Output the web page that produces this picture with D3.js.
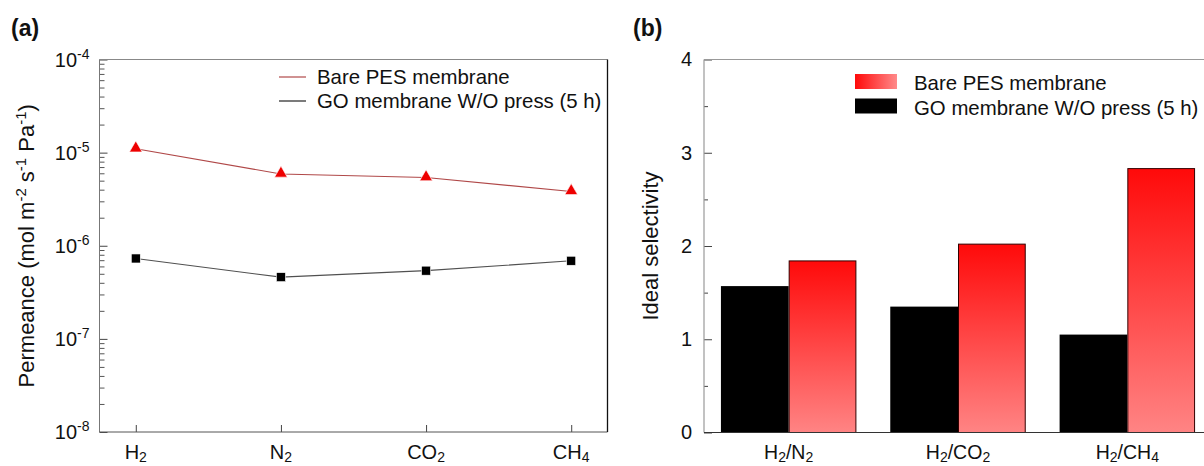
<!DOCTYPE html>
<html>
<head>
<meta charset="utf-8">
<script src="https://cdn.jsdelivr.net/npm/d3@7"></script>
<style>
  html, body { margin: 0; padding: 0; background: #fff; }
  svg { display: block; font-family: "Liberation Sans", Arial, sans-serif; }
</style>
</head>
<body>
<svg id="chart" width="1204" height="466"></svg>
<script>
// ---------------- DATA ----------------
const gases = ["H2", "N2", "CO2", "CH4"];
const permeancePES = [1.10e-5, 5.9e-6, 5.4e-6, 3.83e-6];
const permeanceGO  = [7.3e-7, 4.6e-7, 5.4e-7, 6.9e-7];
const permeanceTicks = [1e-8, 1e-7, 1e-6, 1e-5, 1e-4];
const permeanceTickExp = ["-8", "-7", "-6", "-5", "-4"];

const pairs = ["H2/N2", "H2/CO2", "H2/CH4"];
const selectivityGO  = [1.57, 1.35, 1.05];
const selectivityPES = [1.84, 2.02, 2.83];
const selectivityTicks = [0, 1, 2, 3, 4];
const selectivityMinor = [0.5, 1.5, 2.5, 3.5];

const seriesNames = ["Bare PES membrane", "GO membrane W/O press (5 h)"];

// ---------------- HELPERS ----------------
const svg = d3.select("#chart");

// write a label where digits become subscripts
function subLabel(textSel, str, subSize) {
  const parts = str.match(/[A-Za-z\/]+|\d+/g);
  let lowered = false;
  parts.forEach(p => {
    const isNum = /^\d+$/.test(p);
    const t = textSel.append("tspan").text(p);
    if (isNum && !lowered) { t.attr("dy", 3).attr("font-size", subSize); lowered = true; }
    else if (isNum) { t.attr("font-size", subSize); }
    else if (lowered) { t.attr("dy", -3); lowered = false; }
  });
}

// ---------------- PANEL (a) ----------------
const A = { left: 99.5, right: 607.5, top: 59.5, bottom: 432 };

const xA = d3.scalePoint().domain(gases).range([A.left, A.right]).padding(0.25);
const yA = d3.scaleLog().domain([1e-8, 1e-4]).range([A.bottom, A.top]);

const gA = svg.append("g");

// minor ticks
const minorA = [];
for (let e = -8; e < -4; e++) for (let m = 2; m <= 9; m++) minorA.push(m * Math.pow(10, e));

gA.append("g")
  .attr("transform", `translate(${A.left},0)`)
  .call(d3.axisLeft(yA).tickValues(minorA).tickSize(-5).tickFormat(""))
  .call(g => g.select(".domain").remove())
  .call(g => g.selectAll("line").attr("stroke", "#555"));

gA.append("g")
  .attr("transform", `translate(${A.left},0)`)
  .call(d3.axisLeft(yA).tickValues(permeanceTicks).tickSize(-8).tickFormat(""))
  .call(g => g.select(".domain").remove())
  .call(g => g.selectAll("line").attr("stroke", "#444"));

// y tick labels 10^n
permeanceTicks.forEach((v, i) => {
  const t = gA.append("text")
    .attr("x", A.left - 10).attr("y", yA(v) + 7)
    .attr("text-anchor", "end").attr("font-size", 20).attr("fill", "#111");
  t.append("tspan").text("10");
  t.append("tspan").text(permeanceTickExp[i]).attr("font-size", 14).attr("dy", -8);
});

// x ticks
gA.append("g")
  .attr("transform", `translate(0,${A.bottom})`)
  .call(d3.axisBottom(xA).tickSize(-7).tickFormat(""))
  .call(g => g.select(".domain").remove())
  .call(g => g.selectAll("line").attr("stroke", "#444"));

gases.forEach(gs => {
  const t = gA.append("text")
    .attr("x", xA(gs)).attr("y", 459)
    .attr("text-anchor", "middle").attr("font-size", 20).attr("fill", "#111");
  subLabel(t, gs, 14);
});

// frame
gA.append("line").attr("x1", A.left).attr("x2", A.right).attr("y1", A.top).attr("y2", A.top).attr("stroke", "#888");
gA.append("line").attr("x1", A.left).attr("x2", A.left).attr("y1", A.top).attr("y2", A.bottom).attr("stroke", "#777");
gA.append("line").attr("x1", A.left).attr("x2", A.right).attr("y1", A.bottom).attr("y2", A.bottom).attr("stroke", "#555");
gA.append("line").attr("x1", A.right).attr("x2", A.right).attr("y1", A.top).attr("y2", A.bottom).attr("stroke", "#111").attr("stroke-width", 1.3);

// lines
const lineA = d3.line().x((d, i) => xA(gases[i])).y(d => yA(d));
gA.append("path").datum(permeancePES).attr("d", lineA)
  .attr("fill", "none").attr("stroke", "#b04848").attr("stroke-width", 1.1);
gA.append("path").datum(permeanceGO).attr("d", lineA)
  .attr("fill", "none").attr("stroke", "#505050").attr("stroke-width", 1.1);

// markers
const tri = d3.symbol().type(d3.symbolTriangle).size(70);
gA.selectAll(".tri").data(permeancePES).join("path")
  .attr("transform", (d, i) => `translate(${xA(gases[i])},${yA(d) - 0.5})`)
  .attr("d", tri).attr("fill", "#ee0000").attr("stroke", "#fff").attr("stroke-width", 0.6);
gA.selectAll(".sq").data(permeanceGO).join("rect")
  .attr("x", (d, i) => xA(gases[i]) - 4.5).attr("y", d => yA(d) - 4.5)
  .attr("width", 9).attr("height", 9)
  .attr("fill", "#000").attr("stroke", "#fff").attr("stroke-width", 0.6);

// legend (a)
[["#b04848", 77, seriesNames[0]], ["#222", 101, seriesNames[1]]].forEach(([c, y, name]) => {
  gA.append("line").attr("x1", 279).attr("x2", 306).attr("y1", y).attr("y2", y)
    .attr("stroke", c).attr("stroke-width", 1.2);
  gA.append("text").attr("x", 317).attr("y", y + 7).attr("font-size", 20.4).attr("fill", "#111").text(name);
});

// y title (a)
const ytA = gA.append("text")
  .attr("transform", `translate(34,${(A.top + A.bottom) / 2}) rotate(-90)`)
  .attr("text-anchor", "middle").attr("font-size", 22).attr("fill", "#111");
ytA.append("tspan").text("Permeance (mol m");
ytA.append("tspan").text("-2").attr("font-size", 15).attr("dy", -8);
ytA.append("tspan").text(" s").attr("dy", 8);
ytA.append("tspan").text("-1").attr("font-size", 15).attr("dy", -8);
ytA.append("tspan").text(" Pa").attr("dy", 8);
ytA.append("tspan").text("-1").attr("font-size", 15).attr("dy", -8);
ytA.append("tspan").text(")").attr("dy", 8);

svg.append("text").attr("x", 11).attr("y", 36).attr("font-size", 23)
  .attr("font-weight", "bold").attr("fill", "#111").text("(a)");

// ---------------- PANEL (b) ----------------
const B = { left: 704, right: 1212, top: 59.5, bottom: 432.5 };

const defs = svg.append("defs");
const gv = defs.append("linearGradient").attr("id", "barGrad")
  .attr("x1", 0).attr("y1", 0).attr("x2", 0).attr("y2", 1);
gv.append("stop").attr("offset", "0%").attr("stop-color", "#ff0a0a");
gv.append("stop").attr("offset", "100%").attr("stop-color", "#ff8484");
const gh = defs.append("linearGradient").attr("id", "legGrad")
  .attr("x1", 0).attr("y1", 0).attr("x2", 1).attr("y2", 0);
gh.append("stop").attr("offset", "0%").attr("stop-color", "#ff0a0a");
gh.append("stop").attr("offset", "100%").attr("stop-color", "#ff8a8a");

const xB = d3.scaleBand().domain(pairs).range([B.left, B.right]).paddingInner(0.2).paddingOuter(0.1);
const xB1 = d3.scaleBand().domain(["GO", "PES"]).range([0, xB.bandwidth()]);
const yB = d3.scaleLinear().domain([0, 4]).range([B.bottom, B.top]);

const gB = svg.append("g");

gB.append("g").attr("transform", `translate(${B.left},0)`)
  .call(d3.axisLeft(yB).tickValues(selectivityMinor).tickSize(-4).tickFormat(""))
  .call(g => g.select(".domain").remove())
  .call(g => g.selectAll("line").attr("stroke", "#444"));
gB.append("g").attr("transform", `translate(${B.left},0)`)
  .call(d3.axisLeft(yB).tickValues(selectivityTicks).tickSize(-8).tickPadding(12).tickFormat(d3.format("d")))
  .call(g => g.select(".domain").remove())
  .call(g => g.selectAll("line").attr("stroke", "#444"))
  .call(g => g.selectAll("text").attr("font-size", 20).attr("fill", "#111")
    .attr("font-family", "Liberation Sans, Arial, sans-serif"));

// bars
const grp = gB.selectAll(".grp").data(pairs).join("g")
  .attr("transform", d => `translate(${xB(d)},0)`);
grp.append("rect")
  .attr("x", xB1("GO")).attr("width", xB1.bandwidth())
  .attr("y", (d, i) => yB(selectivityGO[i]))
  .attr("height", (d, i) => yB(0) - yB(selectivityGO[i]))
  .attr("fill", "#000");
grp.append("rect")
  .attr("x", xB1("PES") + 0.5).attr("width", xB1.bandwidth() - 1)
  .attr("y", (d, i) => yB(selectivityPES[i]))
  .attr("height", (d, i) => yB(0) - yB(selectivityPES[i]))
  .attr("fill", "url(#barGrad)").attr("stroke", "#300").attr("stroke-width", 1);

// frame
gB.append("line").attr("x1", B.left).attr("x2", B.right).attr("y1", B.top).attr("y2", B.top).attr("stroke", "#999");
gB.append("line").attr("x1", B.left).attr("x2", B.left).attr("y1", B.top).attr("y2", B.bottom).attr("stroke", "#999").attr("stroke-width", 1.2);
gB.append("line").attr("x1", B.left).attr("x2", B.right).attr("y1", B.bottom).attr("y2", B.bottom).attr("stroke", "#333");

// x labels
pairs.forEach(p => {
  const t = gB.append("text")
    .attr("x", xB(p) + xB.bandwidth() / 2).attr("y", 459)
    .attr("text-anchor", "middle").attr("font-size", 19.5).attr("fill", "#111");
  subLabel(t, p, 14);
});

// legend (b)
gB.append("rect").attr("x", 855).attr("y", 74).attr("width", 42).attr("height", 15).attr("fill", "url(#legGrad)");
gB.append("rect").attr("x", 855).attr("y", 98.5).attr("width", 42).attr("height", 15).attr("fill", "#000");
gB.append("text").attr("x", 914).attr("y", 89.5).attr("font-size", 20.4).attr("fill", "#111").text(seriesNames[0]);
gB.append("text").attr("x", 914).attr("y", 115).attr("font-size", 20.4).attr("fill", "#111").text(seriesNames[1]);

// y title (b)
gB.append("text")
  .attr("transform", `translate(658,${(B.top + B.bottom) / 2}) rotate(-90)`)
  .attr("text-anchor", "middle").attr("font-size", 22).attr("fill", "#111")
  .text("Ideal selectivity");

svg.append("text").attr("x", 633).attr("y", 36).attr("font-size", 23)
  .attr("font-weight", "bold").attr("fill", "#111").text("(b)");
</script>
</body>
</html>
